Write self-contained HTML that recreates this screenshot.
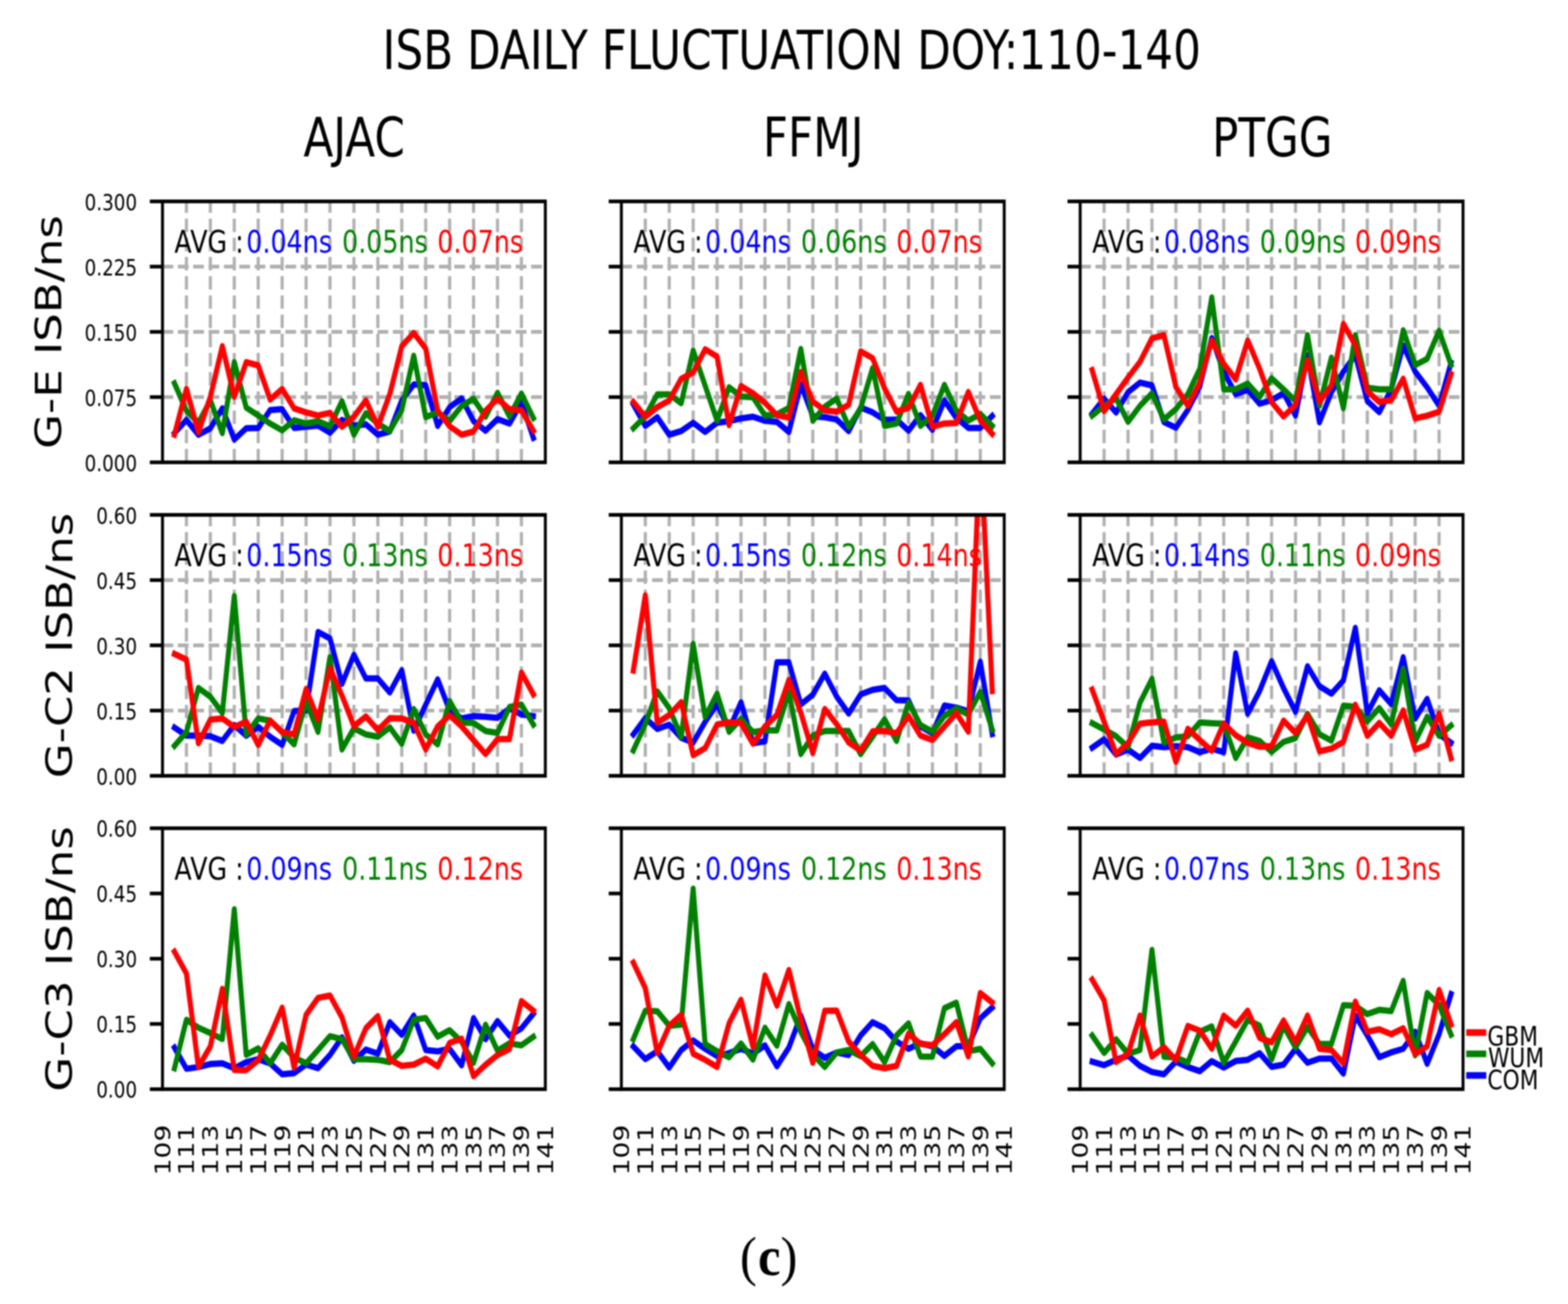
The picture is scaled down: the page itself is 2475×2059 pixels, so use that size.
<!DOCTYPE html>
<html><head><meta charset="utf-8"><style>
html,body{margin:0;padding:0;background:#fff;width:2475px;height:2059px;overflow:hidden;}
svg{display:block;filter:blur(0.8px);}
text{font-family:'DejaVu Sans','Liberation Sans',sans-serif;}
.cap{font-family:'Liberation Serif',serif;}
</style></head><body>
<svg width="2475" height="2059" viewBox="0 0 2475 2059">
<rect width="2475" height="2059" fill="#fff"/>
<g transform="scale(0.8,1)">
<text x="754.80" y="109.20" font-size="86.2" fill="#000" >ISB DAILY FLUCTUATION DOY:110-140</text>
<text x="598.69" y="247.30" font-size="86" fill="#000" >AJAC</text>
<text x="1505.32" y="247.30" font-size="86" fill="#000" >FFMJ</text>
<text x="2391.45" y="247.30" font-size="86" fill="#000" >PTGG</text>
<clipPath id="c00"><rect x="320.62" y="318.00" width="755.37" height="412.00"/></clipPath>
<g>
<line x1="367.84" y1="730.00" x2="367.84" y2="318.00" stroke="#b0b0b0" stroke-width="6.2" stroke-dasharray="21.2 9.1"/>
<line x1="415.05" y1="730.00" x2="415.05" y2="318.00" stroke="#b0b0b0" stroke-width="6.2" stroke-dasharray="21.2 9.1"/>
<line x1="462.26" y1="730.00" x2="462.26" y2="318.00" stroke="#b0b0b0" stroke-width="6.2" stroke-dasharray="21.2 9.1"/>
<line x1="509.47" y1="730.00" x2="509.47" y2="318.00" stroke="#b0b0b0" stroke-width="6.2" stroke-dasharray="21.2 9.1"/>
<line x1="556.68" y1="730.00" x2="556.68" y2="318.00" stroke="#b0b0b0" stroke-width="6.2" stroke-dasharray="21.2 9.1"/>
<line x1="603.89" y1="730.00" x2="603.89" y2="318.00" stroke="#b0b0b0" stroke-width="6.2" stroke-dasharray="21.2 9.1"/>
<line x1="651.10" y1="730.00" x2="651.10" y2="318.00" stroke="#b0b0b0" stroke-width="6.2" stroke-dasharray="21.2 9.1"/>
<line x1="698.31" y1="730.00" x2="698.31" y2="318.00" stroke="#b0b0b0" stroke-width="6.2" stroke-dasharray="21.2 9.1"/>
<line x1="745.52" y1="730.00" x2="745.52" y2="318.00" stroke="#b0b0b0" stroke-width="6.2" stroke-dasharray="21.2 9.1"/>
<line x1="792.73" y1="730.00" x2="792.73" y2="318.00" stroke="#b0b0b0" stroke-width="6.2" stroke-dasharray="21.2 9.1"/>
<line x1="839.95" y1="730.00" x2="839.95" y2="318.00" stroke="#b0b0b0" stroke-width="6.2" stroke-dasharray="21.2 9.1"/>
<line x1="887.16" y1="730.00" x2="887.16" y2="318.00" stroke="#b0b0b0" stroke-width="6.2" stroke-dasharray="21.2 9.1"/>
<line x1="934.37" y1="730.00" x2="934.37" y2="318.00" stroke="#b0b0b0" stroke-width="6.2" stroke-dasharray="21.2 9.1"/>
<line x1="981.58" y1="730.00" x2="981.58" y2="318.00" stroke="#b0b0b0" stroke-width="6.2" stroke-dasharray="21.2 9.1"/>
<line x1="1028.79" y1="730.00" x2="1028.79" y2="318.00" stroke="#b0b0b0" stroke-width="6.2" stroke-dasharray="21.2 9.1"/>
<line x1="320.62" y1="627.00" x2="1076.00" y2="627.00" stroke="#b0b0b0" stroke-width="6.2" stroke-dasharray="21.2 9.1"/>
<line x1="320.62" y1="524.00" x2="1076.00" y2="524.00" stroke="#b0b0b0" stroke-width="6.2" stroke-dasharray="21.2 9.1"/>
<line x1="320.62" y1="421.00" x2="1076.00" y2="421.00" stroke="#b0b0b0" stroke-width="6.2" stroke-dasharray="21.2 9.1"/>
<text x="344.22" y="399.30" font-size="50.0">AVG :</text>
<text x="485.95" y="399.30" font-size="50.0" fill="#0000ff">0.04ns</text>
<text x="674.95" y="399.30" font-size="50.0" fill="#008000">0.05ns</text>
<text x="862.95" y="399.30" font-size="50.0" fill="#ff0000">0.07ns</text>
<g clip-path="url(#c00)">
<polyline points="344.23,683.90 367.84,663.10 391.44,686.40 415.05,676.30 438.65,644.80 462.26,694.00 485.86,676.30 509.47,675.70 533.07,647.40 556.68,646.10 580.29,675.70 603.89,673.80 627.50,671.90 651.10,683.30 674.71,663.10 698.31,672.00 721.92,670.00 745.52,686.40 769.13,681.40 792.73,632.20 816.34,607.10 839.95,608.30 863.55,672.50 887.16,643.00 910.76,629.10 934.37,665.00 957.97,680.10 981.58,661.80 1005.18,668.80 1028.79,636.00 1052.39,691.40" fill="none" stroke="#0000ff" stroke-width="10" stroke-linejoin="round" stroke-linecap="square"/>
<polyline points="344.23,605.20 367.84,648.60 391.44,667.50 415.05,632.20 438.65,683.90 462.26,571.80 485.86,643.60 509.47,656.00 533.07,668.80 556.68,679.50 580.29,663.70 603.89,668.80 627.50,665.00 651.10,673.20 674.71,633.50 698.31,686.40 721.92,652.40 745.52,668.80 769.13,680.70 792.73,647.40 816.34,561.70 839.95,658.70 863.55,651.10 887.16,665.00 910.76,641.10 934.37,629.70 957.97,658.10 981.58,620.30 1005.18,657.40 1028.79,621.50 1052.39,660.00" fill="none" stroke="#008000" stroke-width="10" stroke-linejoin="round" stroke-linecap="square"/>
<polyline points="344.23,686.40 367.84,614.00 391.44,682.60 415.05,626.60 438.65,546.60 462.26,626.60 485.86,571.80 509.47,577.00 533.07,631.00 556.68,614.00 580.29,644.80 603.89,651.10 627.50,656.20 651.10,651.80 674.71,673.80 698.31,658.00 721.92,632.20 745.52,673.80 769.13,622.20 792.73,546.60 816.34,525.80 839.95,550.40 863.55,648.60 887.16,673.00 910.76,686.40 934.37,681.40 957.97,648.60 981.58,629.70 1005.18,646.10 1028.79,648.00 1052.39,680.10" fill="none" stroke="#ff0000" stroke-width="10" stroke-linejoin="round" stroke-linecap="square"/>
</g>
<line x1="295.62" y1="730.00" x2="320.62" y2="730.00" stroke="#000" stroke-width="5.8"/>
<line x1="295.62" y1="627.00" x2="320.62" y2="627.00" stroke="#000" stroke-width="5.8"/>
<line x1="295.62" y1="524.00" x2="320.62" y2="524.00" stroke="#000" stroke-width="5.8"/>
<line x1="295.62" y1="421.00" x2="320.62" y2="421.00" stroke="#000" stroke-width="5.8"/>
<line x1="295.62" y1="318.00" x2="320.62" y2="318.00" stroke="#000" stroke-width="5.8"/>
<rect x="320.62" y="318.00" width="755.37" height="412.00" fill="none" stroke="#000" stroke-width="5.8"/>
</g>
<text x="270.51" y="743.68" font-size="36.2" text-anchor="end">0.000</text>
<text x="270.51" y="640.68" font-size="36.2" text-anchor="end">0.075</text>
<text x="270.51" y="537.68" font-size="36.2" text-anchor="end">0.150</text>
<text x="270.51" y="434.68" font-size="36.2" text-anchor="end">0.225</text>
<text x="270.51" y="331.68" font-size="36.2" text-anchor="end">0.300</text>
<clipPath id="c01"><rect x="1226.00" y="318.00" width="755.37" height="412.00"/></clipPath>
<g>
<line x1="1273.21" y1="730.00" x2="1273.21" y2="318.00" stroke="#b0b0b0" stroke-width="6.2" stroke-dasharray="21.2 9.1"/>
<line x1="1320.42" y1="730.00" x2="1320.42" y2="318.00" stroke="#b0b0b0" stroke-width="6.2" stroke-dasharray="21.2 9.1"/>
<line x1="1367.63" y1="730.00" x2="1367.63" y2="318.00" stroke="#b0b0b0" stroke-width="6.2" stroke-dasharray="21.2 9.1"/>
<line x1="1414.84" y1="730.00" x2="1414.84" y2="318.00" stroke="#b0b0b0" stroke-width="6.2" stroke-dasharray="21.2 9.1"/>
<line x1="1462.05" y1="730.00" x2="1462.05" y2="318.00" stroke="#b0b0b0" stroke-width="6.2" stroke-dasharray="21.2 9.1"/>
<line x1="1509.27" y1="730.00" x2="1509.27" y2="318.00" stroke="#b0b0b0" stroke-width="6.2" stroke-dasharray="21.2 9.1"/>
<line x1="1556.48" y1="730.00" x2="1556.48" y2="318.00" stroke="#b0b0b0" stroke-width="6.2" stroke-dasharray="21.2 9.1"/>
<line x1="1603.69" y1="730.00" x2="1603.69" y2="318.00" stroke="#b0b0b0" stroke-width="6.2" stroke-dasharray="21.2 9.1"/>
<line x1="1650.90" y1="730.00" x2="1650.90" y2="318.00" stroke="#b0b0b0" stroke-width="6.2" stroke-dasharray="21.2 9.1"/>
<line x1="1698.11" y1="730.00" x2="1698.11" y2="318.00" stroke="#b0b0b0" stroke-width="6.2" stroke-dasharray="21.2 9.1"/>
<line x1="1745.32" y1="730.00" x2="1745.32" y2="318.00" stroke="#b0b0b0" stroke-width="6.2" stroke-dasharray="21.2 9.1"/>
<line x1="1792.53" y1="730.00" x2="1792.53" y2="318.00" stroke="#b0b0b0" stroke-width="6.2" stroke-dasharray="21.2 9.1"/>
<line x1="1839.74" y1="730.00" x2="1839.74" y2="318.00" stroke="#b0b0b0" stroke-width="6.2" stroke-dasharray="21.2 9.1"/>
<line x1="1886.95" y1="730.00" x2="1886.95" y2="318.00" stroke="#b0b0b0" stroke-width="6.2" stroke-dasharray="21.2 9.1"/>
<line x1="1934.16" y1="730.00" x2="1934.16" y2="318.00" stroke="#b0b0b0" stroke-width="6.2" stroke-dasharray="21.2 9.1"/>
<line x1="1226.00" y1="627.00" x2="1981.37" y2="627.00" stroke="#b0b0b0" stroke-width="6.2" stroke-dasharray="21.2 9.1"/>
<line x1="1226.00" y1="524.00" x2="1981.37" y2="524.00" stroke="#b0b0b0" stroke-width="6.2" stroke-dasharray="21.2 9.1"/>
<line x1="1226.00" y1="421.00" x2="1981.37" y2="421.00" stroke="#b0b0b0" stroke-width="6.2" stroke-dasharray="21.2 9.1"/>
<text x="1249.60" y="399.30" font-size="50.0">AVG :</text>
<text x="1391.33" y="399.30" font-size="50.0" fill="#0000ff">0.04ns</text>
<text x="1580.33" y="399.30" font-size="50.0" fill="#008000">0.06ns</text>
<text x="1768.32" y="399.30" font-size="50.0" fill="#ff0000">0.07ns</text>
<g clip-path="url(#c01)">
<polyline points="1249.61,638.50 1273.21,672.50 1296.82,658.70 1320.42,686.40 1344.03,680.70 1367.63,667.50 1391.24,682.00 1414.84,667.50 1438.45,665.00 1462.05,660.60 1485.66,658.00 1509.27,664.30 1532.87,666.20 1556.48,682.00 1580.08,607.00 1603.69,657.40 1627.29,658.70 1650.90,662.40 1674.50,680.70 1698.11,643.60 1721.71,651.10 1745.32,663.10 1768.93,662.40 1792.53,680.00 1816.14,655.50 1839.74,678.80 1863.35,632.20 1886.95,659.90 1910.56,675.70 1934.16,675.70 1957.77,656.80" fill="none" stroke="#0000ff" stroke-width="10" stroke-linejoin="round" stroke-linecap="square"/>
<polyline points="1249.61,676.30 1273.21,657.40 1296.82,622.80 1320.42,622.80 1344.03,636.60 1367.63,553.50 1391.24,608.90 1414.84,664.30 1438.45,611.40 1462.05,625.90 1485.66,627.20 1509.27,656.20 1532.87,654.30 1556.48,644.20 1580.08,551.00 1603.69,664.30 1627.29,642.30 1650.90,629.10 1674.50,673.80 1698.11,644.80 1721.71,581.20 1745.32,672.50 1768.93,668.80 1792.53,622.00 1816.14,672.50 1839.74,656.20 1863.35,607.70 1886.95,648.60 1910.56,664.30 1934.16,653.60 1957.77,672.50" fill="none" stroke="#008000" stroke-width="10" stroke-linejoin="round" stroke-linecap="square"/>
<polyline points="1249.61,634.70 1273.21,658.00 1296.82,642.90 1320.42,632.20 1344.03,598.20 1367.63,588.20 1391.24,551.60 1414.84,563.00 1438.45,671.30 1462.05,609.60 1485.66,620.90 1509.27,636.00 1532.87,655.50 1556.48,659.30 1580.08,587.50 1603.69,634.00 1627.29,648.00 1650.90,649.90 1674.50,639.20 1698.11,554.80 1721.71,565.50 1745.32,613.30 1768.93,649.90 1792.53,644.00 1816.14,607.70 1839.74,673.80 1863.35,668.70 1886.95,668.10 1910.56,619.00 1934.16,663.70 1957.77,685.10" fill="none" stroke="#ff0000" stroke-width="10" stroke-linejoin="round" stroke-linecap="square"/>
</g>
<line x1="1201.00" y1="730.00" x2="1226.00" y2="730.00" stroke="#000" stroke-width="5.8"/>
<line x1="1201.00" y1="627.00" x2="1226.00" y2="627.00" stroke="#000" stroke-width="5.8"/>
<line x1="1201.00" y1="524.00" x2="1226.00" y2="524.00" stroke="#000" stroke-width="5.8"/>
<line x1="1201.00" y1="421.00" x2="1226.00" y2="421.00" stroke="#000" stroke-width="5.8"/>
<line x1="1201.00" y1="318.00" x2="1226.00" y2="318.00" stroke="#000" stroke-width="5.8"/>
<rect x="1226.00" y="318.00" width="755.37" height="412.00" fill="none" stroke="#000" stroke-width="5.8"/>
</g>
<clipPath id="c02"><rect x="2131.25" y="318.00" width="755.37" height="412.00"/></clipPath>
<g>
<line x1="2178.46" y1="730.00" x2="2178.46" y2="318.00" stroke="#b0b0b0" stroke-width="6.2" stroke-dasharray="21.2 9.1"/>
<line x1="2225.67" y1="730.00" x2="2225.67" y2="318.00" stroke="#b0b0b0" stroke-width="6.2" stroke-dasharray="21.2 9.1"/>
<line x1="2272.88" y1="730.00" x2="2272.88" y2="318.00" stroke="#b0b0b0" stroke-width="6.2" stroke-dasharray="21.2 9.1"/>
<line x1="2320.09" y1="730.00" x2="2320.09" y2="318.00" stroke="#b0b0b0" stroke-width="6.2" stroke-dasharray="21.2 9.1"/>
<line x1="2367.30" y1="730.00" x2="2367.30" y2="318.00" stroke="#b0b0b0" stroke-width="6.2" stroke-dasharray="21.2 9.1"/>
<line x1="2414.52" y1="730.00" x2="2414.52" y2="318.00" stroke="#b0b0b0" stroke-width="6.2" stroke-dasharray="21.2 9.1"/>
<line x1="2461.73" y1="730.00" x2="2461.73" y2="318.00" stroke="#b0b0b0" stroke-width="6.2" stroke-dasharray="21.2 9.1"/>
<line x1="2508.94" y1="730.00" x2="2508.94" y2="318.00" stroke="#b0b0b0" stroke-width="6.2" stroke-dasharray="21.2 9.1"/>
<line x1="2556.15" y1="730.00" x2="2556.15" y2="318.00" stroke="#b0b0b0" stroke-width="6.2" stroke-dasharray="21.2 9.1"/>
<line x1="2603.36" y1="730.00" x2="2603.36" y2="318.00" stroke="#b0b0b0" stroke-width="6.2" stroke-dasharray="21.2 9.1"/>
<line x1="2650.57" y1="730.00" x2="2650.57" y2="318.00" stroke="#b0b0b0" stroke-width="6.2" stroke-dasharray="21.2 9.1"/>
<line x1="2697.78" y1="730.00" x2="2697.78" y2="318.00" stroke="#b0b0b0" stroke-width="6.2" stroke-dasharray="21.2 9.1"/>
<line x1="2744.99" y1="730.00" x2="2744.99" y2="318.00" stroke="#b0b0b0" stroke-width="6.2" stroke-dasharray="21.2 9.1"/>
<line x1="2792.20" y1="730.00" x2="2792.20" y2="318.00" stroke="#b0b0b0" stroke-width="6.2" stroke-dasharray="21.2 9.1"/>
<line x1="2839.41" y1="730.00" x2="2839.41" y2="318.00" stroke="#b0b0b0" stroke-width="6.2" stroke-dasharray="21.2 9.1"/>
<line x1="2131.25" y1="627.00" x2="2886.62" y2="627.00" stroke="#b0b0b0" stroke-width="6.2" stroke-dasharray="21.2 9.1"/>
<line x1="2131.25" y1="524.00" x2="2886.62" y2="524.00" stroke="#b0b0b0" stroke-width="6.2" stroke-dasharray="21.2 9.1"/>
<line x1="2131.25" y1="421.00" x2="2886.62" y2="421.00" stroke="#b0b0b0" stroke-width="6.2" stroke-dasharray="21.2 9.1"/>
<text x="2154.85" y="399.30" font-size="50.0">AVG :</text>
<text x="2296.57" y="399.30" font-size="50.0" fill="#0000ff">0.08ns</text>
<text x="2485.57" y="399.30" font-size="50.0" fill="#008000">0.09ns</text>
<text x="2673.57" y="399.30" font-size="50.0" fill="#ff0000">0.09ns</text>
<g clip-path="url(#c02)">
<polyline points="2154.86,653.30 2178.46,629.60 2202.07,651.40 2225.67,619.30 2249.28,604.10 2272.88,608.50 2296.49,666.40 2320.09,675.40 2343.70,647.10 2367.30,610.00 2390.91,533.80 2414.52,586.80 2438.12,622.40 2461.73,615.40 2485.33,637.50 2508.94,632.00 2532.54,620.80 2556.15,656.10 2579.75,560.90 2603.36,666.90 2626.96,619.30 2650.57,586.80 2674.18,560.60 2697.78,633.20 2721.39,650.70 2744.99,614.70 2768.60,545.40 2792.20,586.80 2815.81,611.60 2839.41,640.60 2863.02,572.90" fill="none" stroke="#0000ff" stroke-width="10" stroke-linejoin="round" stroke-linecap="square"/>
<polyline points="2154.86,656.40 2178.46,640.90 2202.07,628.90 2225.67,666.10 2249.28,640.90 2272.88,621.10 2296.49,662.30 2320.09,646.00 2343.70,622.40 2367.30,582.20 2390.91,469.70 2414.52,614.70 2438.12,614.70 2461.73,605.70 2485.33,626.70 2508.94,597.20 2532.54,614.70 2556.15,633.20 2579.75,529.20 2603.36,640.60 2626.96,564.70 2650.57,644.50 2674.18,529.20 2697.78,612.30 2721.39,614.70 2744.99,614.70 2768.60,521.50 2792.20,576.50 2815.81,566.70 2839.41,522.20 2863.02,576.00" fill="none" stroke="#008000" stroke-width="10" stroke-linejoin="round" stroke-linecap="square"/>
<polyline points="2154.86,584.50 2178.46,649.10 2202.07,622.40 2225.67,596.10 2249.28,571.40 2272.88,534.30 2296.49,529.20 2320.09,611.00 2343.70,640.60 2367.30,603.80 2390.91,537.70 2414.52,574.50 2438.12,598.90 2461.73,537.70 2485.33,582.20 2508.94,635.00 2532.54,657.60 2556.15,639.40 2579.75,568.60 2603.36,634.40 2626.96,608.50 2650.57,511.40 2674.18,545.10 2697.78,617.70 2721.39,634.70 2744.99,631.70 2768.60,598.00 2792.20,660.70 2815.81,656.40 2839.41,650.20 2863.02,590.70" fill="none" stroke="#ff0000" stroke-width="10" stroke-linejoin="round" stroke-linecap="square"/>
</g>
<line x1="2106.25" y1="730.00" x2="2131.25" y2="730.00" stroke="#000" stroke-width="5.8"/>
<line x1="2106.25" y1="627.00" x2="2131.25" y2="627.00" stroke="#000" stroke-width="5.8"/>
<line x1="2106.25" y1="524.00" x2="2131.25" y2="524.00" stroke="#000" stroke-width="5.8"/>
<line x1="2106.25" y1="421.00" x2="2131.25" y2="421.00" stroke="#000" stroke-width="5.8"/>
<line x1="2106.25" y1="318.00" x2="2131.25" y2="318.00" stroke="#000" stroke-width="5.8"/>
<rect x="2131.25" y="318.00" width="755.37" height="412.00" fill="none" stroke="#000" stroke-width="5.8"/>
</g>
<clipPath id="c10"><rect x="320.62" y="813.00" width="755.37" height="412.00"/></clipPath>
<g>
<line x1="367.84" y1="1225.00" x2="367.84" y2="813.00" stroke="#b0b0b0" stroke-width="6.2" stroke-dasharray="21.2 9.1"/>
<line x1="415.05" y1="1225.00" x2="415.05" y2="813.00" stroke="#b0b0b0" stroke-width="6.2" stroke-dasharray="21.2 9.1"/>
<line x1="462.26" y1="1225.00" x2="462.26" y2="813.00" stroke="#b0b0b0" stroke-width="6.2" stroke-dasharray="21.2 9.1"/>
<line x1="509.47" y1="1225.00" x2="509.47" y2="813.00" stroke="#b0b0b0" stroke-width="6.2" stroke-dasharray="21.2 9.1"/>
<line x1="556.68" y1="1225.00" x2="556.68" y2="813.00" stroke="#b0b0b0" stroke-width="6.2" stroke-dasharray="21.2 9.1"/>
<line x1="603.89" y1="1225.00" x2="603.89" y2="813.00" stroke="#b0b0b0" stroke-width="6.2" stroke-dasharray="21.2 9.1"/>
<line x1="651.10" y1="1225.00" x2="651.10" y2="813.00" stroke="#b0b0b0" stroke-width="6.2" stroke-dasharray="21.2 9.1"/>
<line x1="698.31" y1="1225.00" x2="698.31" y2="813.00" stroke="#b0b0b0" stroke-width="6.2" stroke-dasharray="21.2 9.1"/>
<line x1="745.52" y1="1225.00" x2="745.52" y2="813.00" stroke="#b0b0b0" stroke-width="6.2" stroke-dasharray="21.2 9.1"/>
<line x1="792.73" y1="1225.00" x2="792.73" y2="813.00" stroke="#b0b0b0" stroke-width="6.2" stroke-dasharray="21.2 9.1"/>
<line x1="839.95" y1="1225.00" x2="839.95" y2="813.00" stroke="#b0b0b0" stroke-width="6.2" stroke-dasharray="21.2 9.1"/>
<line x1="887.16" y1="1225.00" x2="887.16" y2="813.00" stroke="#b0b0b0" stroke-width="6.2" stroke-dasharray="21.2 9.1"/>
<line x1="934.37" y1="1225.00" x2="934.37" y2="813.00" stroke="#b0b0b0" stroke-width="6.2" stroke-dasharray="21.2 9.1"/>
<line x1="981.58" y1="1225.00" x2="981.58" y2="813.00" stroke="#b0b0b0" stroke-width="6.2" stroke-dasharray="21.2 9.1"/>
<line x1="1028.79" y1="1225.00" x2="1028.79" y2="813.00" stroke="#b0b0b0" stroke-width="6.2" stroke-dasharray="21.2 9.1"/>
<line x1="320.62" y1="1122.00" x2="1076.00" y2="1122.00" stroke="#b0b0b0" stroke-width="6.2" stroke-dasharray="21.2 9.1"/>
<line x1="320.62" y1="1019.00" x2="1076.00" y2="1019.00" stroke="#b0b0b0" stroke-width="6.2" stroke-dasharray="21.2 9.1"/>
<line x1="320.62" y1="916.00" x2="1076.00" y2="916.00" stroke="#b0b0b0" stroke-width="6.2" stroke-dasharray="21.2 9.1"/>
<text x="344.22" y="894.30" font-size="50.0">AVG :</text>
<text x="485.95" y="894.30" font-size="50.0" fill="#0000ff">0.15ns</text>
<text x="674.95" y="894.30" font-size="50.0" fill="#008000">0.13ns</text>
<text x="862.95" y="894.30" font-size="50.0" fill="#ff0000">0.13ns</text>
<g clip-path="url(#c10)">
<polyline points="344.23,1148.80 367.84,1161.50 391.44,1161.50 415.05,1162.40 438.65,1169.90 462.26,1144.90 485.86,1161.80 509.47,1147.60 533.07,1163.30 556.68,1176.20 580.29,1122.70 603.89,1121.80 627.50,997.90 651.10,1008.20 674.71,1079.80 698.31,1034.00 721.92,1071.30 745.52,1071.30 769.13,1093.30 792.73,1058.30 816.34,1153.70 839.95,1112.80 863.55,1072.70 887.16,1121.80 910.76,1134.40 934.37,1130.80 957.97,1131.70 981.58,1133.50 1005.18,1118.70 1028.79,1128.10 1052.39,1130.80" fill="none" stroke="#0000ff" stroke-width="10" stroke-linejoin="round" stroke-linecap="square"/>
<polyline points="344.23,1177.70 367.84,1156.00 391.44,1086.30 415.05,1100.10 438.65,1125.70 462.26,941.10 485.86,1160.00 509.47,1134.40 533.07,1138.00 556.68,1156.00 580.29,1175.30 603.89,1107.00 627.50,1155.50 651.10,1037.60 674.71,1183.40 698.31,1150.00 721.92,1159.60 745.52,1163.30 769.13,1148.50 792.73,1174.40 816.34,1119.60 839.95,1159.60 863.55,1175.30 887.16,1107.00 910.76,1140.70 934.37,1141.60 957.97,1154.20 981.58,1157.30 1005.18,1116.40 1028.79,1112.40 1052.39,1144.30" fill="none" stroke="#008000" stroke-width="10" stroke-linejoin="round" stroke-linecap="square"/>
<polyline points="344.23,1032.50 367.84,1041.50 391.44,1173.50 415.05,1136.20 438.65,1134.40 462.26,1147.90 485.86,1139.50 509.47,1176.20 533.07,1137.60 556.68,1156.00 580.29,1159.60 603.89,1088.10 627.50,1135.70 651.10,1054.70 674.71,1098.30 698.31,1146.50 721.92,1131.30 745.52,1152.80 769.13,1134.00 792.73,1134.40 816.34,1141.60 839.95,1183.40 863.55,1147.00 887.16,1129.50 910.76,1147.00 934.37,1168.70 957.97,1190.70 981.58,1166.90 1005.18,1166.90 1028.79,1061.90 1052.39,1096.50" fill="none" stroke="#ff0000" stroke-width="10" stroke-linejoin="round" stroke-linecap="square"/>
</g>
<line x1="295.62" y1="1225.00" x2="320.62" y2="1225.00" stroke="#000" stroke-width="5.8"/>
<line x1="295.62" y1="1122.00" x2="320.62" y2="1122.00" stroke="#000" stroke-width="5.8"/>
<line x1="295.62" y1="1019.00" x2="320.62" y2="1019.00" stroke="#000" stroke-width="5.8"/>
<line x1="295.62" y1="916.00" x2="320.62" y2="916.00" stroke="#000" stroke-width="5.8"/>
<line x1="295.62" y1="813.00" x2="320.62" y2="813.00" stroke="#000" stroke-width="5.8"/>
<rect x="320.62" y="813.00" width="755.37" height="412.00" fill="none" stroke="#000" stroke-width="5.8"/>
</g>
<text x="270.51" y="1238.68" font-size="36.2" text-anchor="end">0.00</text>
<text x="270.51" y="1135.68" font-size="36.2" text-anchor="end">0.15</text>
<text x="270.51" y="1032.68" font-size="36.2" text-anchor="end">0.30</text>
<text x="270.51" y="929.68" font-size="36.2" text-anchor="end">0.45</text>
<text x="270.51" y="826.68" font-size="36.2" text-anchor="end">0.60</text>
<clipPath id="c11"><rect x="1226.00" y="813.00" width="755.37" height="412.00"/></clipPath>
<g>
<line x1="1273.21" y1="1225.00" x2="1273.21" y2="813.00" stroke="#b0b0b0" stroke-width="6.2" stroke-dasharray="21.2 9.1"/>
<line x1="1320.42" y1="1225.00" x2="1320.42" y2="813.00" stroke="#b0b0b0" stroke-width="6.2" stroke-dasharray="21.2 9.1"/>
<line x1="1367.63" y1="1225.00" x2="1367.63" y2="813.00" stroke="#b0b0b0" stroke-width="6.2" stroke-dasharray="21.2 9.1"/>
<line x1="1414.84" y1="1225.00" x2="1414.84" y2="813.00" stroke="#b0b0b0" stroke-width="6.2" stroke-dasharray="21.2 9.1"/>
<line x1="1462.05" y1="1225.00" x2="1462.05" y2="813.00" stroke="#b0b0b0" stroke-width="6.2" stroke-dasharray="21.2 9.1"/>
<line x1="1509.27" y1="1225.00" x2="1509.27" y2="813.00" stroke="#b0b0b0" stroke-width="6.2" stroke-dasharray="21.2 9.1"/>
<line x1="1556.48" y1="1225.00" x2="1556.48" y2="813.00" stroke="#b0b0b0" stroke-width="6.2" stroke-dasharray="21.2 9.1"/>
<line x1="1603.69" y1="1225.00" x2="1603.69" y2="813.00" stroke="#b0b0b0" stroke-width="6.2" stroke-dasharray="21.2 9.1"/>
<line x1="1650.90" y1="1225.00" x2="1650.90" y2="813.00" stroke="#b0b0b0" stroke-width="6.2" stroke-dasharray="21.2 9.1"/>
<line x1="1698.11" y1="1225.00" x2="1698.11" y2="813.00" stroke="#b0b0b0" stroke-width="6.2" stroke-dasharray="21.2 9.1"/>
<line x1="1745.32" y1="1225.00" x2="1745.32" y2="813.00" stroke="#b0b0b0" stroke-width="6.2" stroke-dasharray="21.2 9.1"/>
<line x1="1792.53" y1="1225.00" x2="1792.53" y2="813.00" stroke="#b0b0b0" stroke-width="6.2" stroke-dasharray="21.2 9.1"/>
<line x1="1839.74" y1="1225.00" x2="1839.74" y2="813.00" stroke="#b0b0b0" stroke-width="6.2" stroke-dasharray="21.2 9.1"/>
<line x1="1886.95" y1="1225.00" x2="1886.95" y2="813.00" stroke="#b0b0b0" stroke-width="6.2" stroke-dasharray="21.2 9.1"/>
<line x1="1934.16" y1="1225.00" x2="1934.16" y2="813.00" stroke="#b0b0b0" stroke-width="6.2" stroke-dasharray="21.2 9.1"/>
<line x1="1226.00" y1="1122.00" x2="1981.37" y2="1122.00" stroke="#b0b0b0" stroke-width="6.2" stroke-dasharray="21.2 9.1"/>
<line x1="1226.00" y1="1019.00" x2="1981.37" y2="1019.00" stroke="#b0b0b0" stroke-width="6.2" stroke-dasharray="21.2 9.1"/>
<line x1="1226.00" y1="916.00" x2="1981.37" y2="916.00" stroke="#b0b0b0" stroke-width="6.2" stroke-dasharray="21.2 9.1"/>
<text x="1249.60" y="894.30" font-size="50.0">AVG :</text>
<text x="1391.33" y="894.30" font-size="50.0" fill="#0000ff">0.15ns</text>
<text x="1580.33" y="894.30" font-size="50.0" fill="#008000">0.12ns</text>
<text x="1768.32" y="894.30" font-size="50.0" fill="#ff0000">0.14ns</text>
<g clip-path="url(#c11)">
<polyline points="1249.61,1159.60 1273.21,1134.00 1296.82,1151.00 1320.42,1144.30 1344.03,1165.00 1367.63,1172.60 1391.24,1139.80 1414.84,1112.00 1438.45,1151.90 1462.05,1108.80 1485.66,1173.50 1509.27,1170.50 1532.87,1045.70 1556.48,1045.70 1580.08,1112.20 1603.69,1097.00 1627.29,1063.70 1650.90,1100.10 1674.50,1126.70 1698.11,1096.50 1721.71,1089.30 1745.32,1086.30 1768.93,1105.60 1792.53,1106.00 1816.14,1147.20 1839.74,1157.70 1863.35,1114.00 1886.95,1117.40 1910.56,1123.30 1934.16,1044.80 1957.77,1159.10" fill="none" stroke="#0000ff" stroke-width="10" stroke-linejoin="round" stroke-linecap="square"/>
<polyline points="1249.61,1184.90 1273.21,1143.40 1296.82,1091.70 1320.42,1118.20 1344.03,1163.60 1367.63,1016.80 1391.24,1132.10 1414.84,1095.30 1438.45,1155.50 1462.05,1134.90 1485.66,1156.00 1509.27,1153.30 1532.87,1153.30 1556.48,1092.60 1580.08,1190.70 1603.69,1161.50 1627.29,1154.20 1650.90,1154.20 1674.50,1154.20 1698.11,1190.70 1721.71,1163.30 1745.32,1135.80 1768.93,1169.90 1792.53,1109.30 1816.14,1144.80 1839.74,1155.30 1863.35,1130.50 1886.95,1118.60 1910.56,1128.10 1934.16,1092.50 1957.77,1152.00" fill="none" stroke="#008000" stroke-width="10" stroke-linejoin="round" stroke-linecap="square"/>
<polyline points="1249.61,1058.70 1273.21,940.20 1296.82,1141.10 1320.42,1129.00 1344.03,1108.80 1367.63,1192.50 1391.24,1181.30 1414.84,1144.00 1438.45,1140.70 1462.05,1141.60 1485.66,1174.40 1509.27,1147.00 1532.87,1129.00 1556.48,1073.60 1580.08,1125.40 1603.69,1188.90 1627.29,1119.60 1650.90,1143.40 1674.50,1172.30 1698.11,1185.20 1721.71,1154.80 1745.32,1154.20 1768.93,1157.80 1792.53,1130.70 1816.14,1161.50 1839.74,1168.50 1863.35,1147.20 1886.95,1126.00 1910.56,1155.30 1934.16,695.00 1957.77,1091.10" fill="none" stroke="#ff0000" stroke-width="10" stroke-linejoin="round" stroke-linecap="square"/>
</g>
<line x1="1201.00" y1="1225.00" x2="1226.00" y2="1225.00" stroke="#000" stroke-width="5.8"/>
<line x1="1201.00" y1="1122.00" x2="1226.00" y2="1122.00" stroke="#000" stroke-width="5.8"/>
<line x1="1201.00" y1="1019.00" x2="1226.00" y2="1019.00" stroke="#000" stroke-width="5.8"/>
<line x1="1201.00" y1="916.00" x2="1226.00" y2="916.00" stroke="#000" stroke-width="5.8"/>
<line x1="1201.00" y1="813.00" x2="1226.00" y2="813.00" stroke="#000" stroke-width="5.8"/>
<rect x="1226.00" y="813.00" width="755.37" height="412.00" fill="none" stroke="#000" stroke-width="5.8"/>
</g>
<clipPath id="c12"><rect x="2131.25" y="813.00" width="755.37" height="412.00"/></clipPath>
<g>
<line x1="2178.46" y1="1225.00" x2="2178.46" y2="813.00" stroke="#b0b0b0" stroke-width="6.2" stroke-dasharray="21.2 9.1"/>
<line x1="2225.67" y1="1225.00" x2="2225.67" y2="813.00" stroke="#b0b0b0" stroke-width="6.2" stroke-dasharray="21.2 9.1"/>
<line x1="2272.88" y1="1225.00" x2="2272.88" y2="813.00" stroke="#b0b0b0" stroke-width="6.2" stroke-dasharray="21.2 9.1"/>
<line x1="2320.09" y1="1225.00" x2="2320.09" y2="813.00" stroke="#b0b0b0" stroke-width="6.2" stroke-dasharray="21.2 9.1"/>
<line x1="2367.30" y1="1225.00" x2="2367.30" y2="813.00" stroke="#b0b0b0" stroke-width="6.2" stroke-dasharray="21.2 9.1"/>
<line x1="2414.52" y1="1225.00" x2="2414.52" y2="813.00" stroke="#b0b0b0" stroke-width="6.2" stroke-dasharray="21.2 9.1"/>
<line x1="2461.73" y1="1225.00" x2="2461.73" y2="813.00" stroke="#b0b0b0" stroke-width="6.2" stroke-dasharray="21.2 9.1"/>
<line x1="2508.94" y1="1225.00" x2="2508.94" y2="813.00" stroke="#b0b0b0" stroke-width="6.2" stroke-dasharray="21.2 9.1"/>
<line x1="2556.15" y1="1225.00" x2="2556.15" y2="813.00" stroke="#b0b0b0" stroke-width="6.2" stroke-dasharray="21.2 9.1"/>
<line x1="2603.36" y1="1225.00" x2="2603.36" y2="813.00" stroke="#b0b0b0" stroke-width="6.2" stroke-dasharray="21.2 9.1"/>
<line x1="2650.57" y1="1225.00" x2="2650.57" y2="813.00" stroke="#b0b0b0" stroke-width="6.2" stroke-dasharray="21.2 9.1"/>
<line x1="2697.78" y1="1225.00" x2="2697.78" y2="813.00" stroke="#b0b0b0" stroke-width="6.2" stroke-dasharray="21.2 9.1"/>
<line x1="2744.99" y1="1225.00" x2="2744.99" y2="813.00" stroke="#b0b0b0" stroke-width="6.2" stroke-dasharray="21.2 9.1"/>
<line x1="2792.20" y1="1225.00" x2="2792.20" y2="813.00" stroke="#b0b0b0" stroke-width="6.2" stroke-dasharray="21.2 9.1"/>
<line x1="2839.41" y1="1225.00" x2="2839.41" y2="813.00" stroke="#b0b0b0" stroke-width="6.2" stroke-dasharray="21.2 9.1"/>
<line x1="2131.25" y1="1122.00" x2="2886.62" y2="1122.00" stroke="#b0b0b0" stroke-width="6.2" stroke-dasharray="21.2 9.1"/>
<line x1="2131.25" y1="1019.00" x2="2886.62" y2="1019.00" stroke="#b0b0b0" stroke-width="6.2" stroke-dasharray="21.2 9.1"/>
<line x1="2131.25" y1="916.00" x2="2886.62" y2="916.00" stroke="#b0b0b0" stroke-width="6.2" stroke-dasharray="21.2 9.1"/>
<text x="2154.85" y="894.30" font-size="50.0">AVG :</text>
<text x="2296.57" y="894.30" font-size="50.0" fill="#0000ff">0.14ns</text>
<text x="2485.57" y="894.30" font-size="50.0" fill="#008000">0.11ns</text>
<text x="2673.57" y="894.30" font-size="50.0" fill="#ff0000">0.09ns</text>
<g clip-path="url(#c12)">
<polyline points="2154.86,1180.60 2178.46,1167.40 2202.07,1191.50 2225.67,1183.60 2249.28,1196.80 2272.88,1177.50 2296.49,1179.80 2320.09,1178.30 2343.70,1179.80 2367.30,1187.70 2390.91,1182.10 2414.52,1187.70 2438.12,1031.60 2461.73,1127.00 2485.33,1091.10 2508.94,1044.00 2532.54,1086.50 2556.15,1124.00 2579.75,1052.10 2603.36,1083.50 2626.96,1095.20 2650.57,1074.40 2674.18,991.40 2697.78,1126.20 2721.39,1090.00 2744.99,1111.80 2768.60,1037.70 2792.20,1134.60 2815.81,1103.60 2839.41,1159.30 2863.02,1172.90" fill="none" stroke="#0000ff" stroke-width="10" stroke-linejoin="round" stroke-linecap="square"/>
<polyline points="2154.86,1141.90 2178.46,1151.80 2202.07,1162.40 2225.67,1180.10 2249.28,1109.30 2272.88,1071.80 2296.49,1172.50 2320.09,1164.60 2343.70,1162.40 2367.30,1140.80 2390.91,1141.90 2414.52,1142.70 2438.12,1196.80 2461.73,1164.40 2485.33,1170.00 2508.94,1187.20 2532.54,1171.50 2556.15,1165.40 2579.75,1127.20 2603.36,1159.30 2626.96,1169.50 2650.57,1114.30 2674.18,1116.10 2697.78,1139.10 2721.39,1118.00 2744.99,1143.70 2768.60,1055.90 2792.20,1171.00 2815.81,1131.70 2839.41,1161.90 2863.02,1145.60" fill="none" stroke="#008000" stroke-width="10" stroke-linejoin="round" stroke-linecap="square"/>
<polyline points="2154.86,1088.80 2178.46,1139.60 2202.07,1190.70 2225.67,1173.00 2249.28,1142.70 2272.88,1140.40 2296.49,1139.60 2320.09,1202.90 2343.70,1150.70 2367.30,1168.40 2390.91,1185.40 2414.52,1142.40 2438.12,1160.90 2461.73,1173.00 2485.33,1179.10 2508.94,1178.00 2532.54,1137.80 2556.15,1157.40 2579.75,1129.50 2603.36,1186.20 2626.96,1182.10 2650.57,1171.50 2674.18,1112.80 2697.78,1161.90 2721.39,1141.50 2744.99,1161.90 2768.60,1121.80 2792.20,1183.80 2815.81,1176.00 2839.41,1126.40 2863.02,1197.20" fill="none" stroke="#ff0000" stroke-width="10" stroke-linejoin="round" stroke-linecap="square"/>
</g>
<line x1="2106.25" y1="1225.00" x2="2131.25" y2="1225.00" stroke="#000" stroke-width="5.8"/>
<line x1="2106.25" y1="1122.00" x2="2131.25" y2="1122.00" stroke="#000" stroke-width="5.8"/>
<line x1="2106.25" y1="1019.00" x2="2131.25" y2="1019.00" stroke="#000" stroke-width="5.8"/>
<line x1="2106.25" y1="916.00" x2="2131.25" y2="916.00" stroke="#000" stroke-width="5.8"/>
<line x1="2106.25" y1="813.00" x2="2131.25" y2="813.00" stroke="#000" stroke-width="5.8"/>
<rect x="2131.25" y="813.00" width="755.37" height="412.00" fill="none" stroke="#000" stroke-width="5.8"/>
</g>
<clipPath id="c20"><rect x="320.62" y="1307.80" width="755.37" height="412.00"/></clipPath>
<g>
<text x="344.22" y="1389.10" font-size="50.0">AVG :</text>
<text x="485.95" y="1389.10" font-size="50.0" fill="#0000ff">0.09ns</text>
<text x="674.95" y="1389.10" font-size="50.0" fill="#008000">0.11ns</text>
<text x="862.95" y="1389.10" font-size="50.0" fill="#ff0000">0.12ns</text>
<g clip-path="url(#c20)">
<polyline points="344.23,1654.20 367.84,1687.60 391.44,1684.90 415.05,1680.10 438.65,1679.10 462.26,1686.80 485.86,1677.20 509.47,1672.40 533.07,1679.10 556.68,1696.20 580.29,1694.50 603.89,1681.00 627.50,1686.60 651.10,1665.70 674.71,1638.10 698.31,1675.00 721.92,1657.30 745.52,1663.80 769.13,1614.10 792.73,1633.90 816.34,1603.60 839.95,1658.00 863.55,1660.00 887.16,1656.30 910.76,1682.00 934.37,1607.60 957.97,1640.80 981.58,1612.30 1005.18,1635.20 1028.79,1623.70 1052.39,1600.60" fill="none" stroke="#0000ff" stroke-width="10" stroke-linejoin="round" stroke-linecap="square"/>
<polyline points="344.23,1686.80 367.84,1610.30 391.44,1622.60 415.05,1631.20 438.65,1640.60 462.26,1435.80 485.86,1665.50 509.47,1655.40 533.07,1679.00 556.68,1649.60 580.29,1669.60 603.89,1679.00 627.50,1658.00 651.10,1636.20 674.71,1640.80 698.31,1672.50 721.92,1672.40 745.52,1673.40 769.13,1677.00 792.73,1658.00 816.34,1610.10 839.95,1607.40 863.55,1636.80 887.16,1626.70 910.76,1644.80 934.37,1678.10 957.97,1618.10 981.58,1659.00 1005.18,1647.60 1028.79,1650.50 1052.39,1637.10" fill="none" stroke="#008000" stroke-width="10" stroke-linejoin="round" stroke-linecap="square"/>
<polyline points="344.23,1502.70 367.84,1537.20 391.44,1684.70 415.05,1652.30 438.65,1561.40 462.26,1689.50 485.86,1689.70 509.47,1674.00 533.07,1635.00 556.68,1591.10 580.29,1685.70 603.89,1602.40 627.50,1575.60 651.10,1572.00 674.71,1606.30 698.31,1668.00 721.92,1623.50 745.52,1604.50 769.13,1673.40 792.73,1683.00 816.34,1681.00 839.95,1671.70 863.55,1683.70 887.16,1646.70 910.76,1640.20 934.37,1699.30 957.97,1681.20 981.58,1665.90 1005.18,1656.30 1028.79,1580.70 1052.39,1595.80" fill="none" stroke="#ff0000" stroke-width="10" stroke-linejoin="round" stroke-linecap="square"/>
</g>
<line x1="295.62" y1="1719.80" x2="320.62" y2="1719.80" stroke="#000" stroke-width="5.8"/>
<line x1="295.62" y1="1616.80" x2="320.62" y2="1616.80" stroke="#000" stroke-width="5.8"/>
<line x1="295.62" y1="1513.80" x2="320.62" y2="1513.80" stroke="#000" stroke-width="5.8"/>
<line x1="295.62" y1="1410.80" x2="320.62" y2="1410.80" stroke="#000" stroke-width="5.8"/>
<line x1="295.62" y1="1307.80" x2="320.62" y2="1307.80" stroke="#000" stroke-width="5.8"/>
<rect x="320.62" y="1307.80" width="755.37" height="412.00" fill="none" stroke="#000" stroke-width="5.8"/>
</g>
<text x="270.51" y="1733.48" font-size="36.2" text-anchor="end">0.00</text>
<text x="270.51" y="1630.48" font-size="36.2" text-anchor="end">0.15</text>
<text x="270.51" y="1527.48" font-size="36.2" text-anchor="end">0.30</text>
<text x="270.51" y="1424.48" font-size="36.2" text-anchor="end">0.45</text>
<text x="270.51" y="1321.48" font-size="36.2" text-anchor="end">0.60</text>
<clipPath id="c21"><rect x="1226.00" y="1307.80" width="755.37" height="412.00"/></clipPath>
<g>
<text x="1249.60" y="1389.10" font-size="50.0">AVG :</text>
<text x="1391.33" y="1389.10" font-size="50.0" fill="#0000ff">0.09ns</text>
<text x="1580.33" y="1389.10" font-size="50.0" fill="#008000">0.12ns</text>
<text x="1768.32" y="1389.10" font-size="50.0" fill="#ff0000">0.13ns</text>
<g clip-path="url(#c21)">
<polyline points="1249.61,1652.30 1273.21,1672.20 1296.82,1660.00 1320.42,1685.70 1344.03,1658.00 1367.63,1642.90 1391.24,1656.10 1414.84,1667.60 1438.45,1662.80 1462.05,1656.10 1485.66,1663.80 1509.27,1650.60 1532.87,1683.70 1556.48,1654.20 1580.08,1603.60 1603.69,1657.00 1627.29,1670.30 1650.90,1661.90 1674.50,1665.70 1698.11,1635.00 1721.71,1614.10 1745.32,1623.50 1768.93,1644.60 1792.53,1656.00 1816.14,1647.30 1839.74,1652.10 1863.35,1667.30 1886.95,1652.10 1910.56,1652.10 1934.16,1608.00 1957.77,1590.80" fill="none" stroke="#0000ff" stroke-width="10" stroke-linejoin="round" stroke-linecap="square"/>
<polyline points="1249.61,1640.80 1273.21,1595.90 1296.82,1596.70 1320.42,1619.70 1344.03,1617.80 1367.63,1403.20 1391.24,1648.50 1414.84,1660.00 1438.45,1669.40 1462.05,1647.70 1485.66,1673.20 1509.27,1622.80 1532.87,1651.10 1556.48,1585.40 1580.08,1629.30 1603.69,1665.00 1627.29,1684.70 1650.90,1661.90 1674.50,1658.00 1698.11,1667.60 1721.71,1648.60 1745.32,1677.00 1768.93,1635.00 1792.53,1615.90 1816.14,1668.20 1839.74,1668.40 1863.35,1592.00 1886.95,1583.30 1910.56,1659.80 1934.16,1656.20 1957.77,1679.00" fill="none" stroke="#008000" stroke-width="10" stroke-linejoin="round" stroke-linecap="square"/>
<polyline points="1249.61,1520.00 1273.21,1560.30 1296.82,1662.60 1320.42,1619.70 1344.03,1602.60 1367.63,1663.80 1391.24,1673.40 1414.84,1684.70 1438.45,1615.90 1462.05,1578.70 1485.66,1653.10 1509.27,1540.30 1532.87,1587.90 1556.48,1531.70 1580.08,1610.10 1603.69,1678.00 1627.29,1595.90 1650.90,1595.70 1674.50,1644.60 1698.11,1665.70 1721.71,1683.00 1745.32,1686.80 1768.93,1683.00 1792.53,1632.20 1816.14,1648.30 1839.74,1650.20 1863.35,1633.00 1886.95,1614.00 1910.56,1668.20 1934.16,1568.00 1957.77,1583.10" fill="none" stroke="#ff0000" stroke-width="10" stroke-linejoin="round" stroke-linecap="square"/>
</g>
<line x1="1201.00" y1="1719.80" x2="1226.00" y2="1719.80" stroke="#000" stroke-width="5.8"/>
<line x1="1201.00" y1="1616.80" x2="1226.00" y2="1616.80" stroke="#000" stroke-width="5.8"/>
<line x1="1201.00" y1="1513.80" x2="1226.00" y2="1513.80" stroke="#000" stroke-width="5.8"/>
<line x1="1201.00" y1="1410.80" x2="1226.00" y2="1410.80" stroke="#000" stroke-width="5.8"/>
<line x1="1201.00" y1="1307.80" x2="1226.00" y2="1307.80" stroke="#000" stroke-width="5.8"/>
<rect x="1226.00" y="1307.80" width="755.37" height="412.00" fill="none" stroke="#000" stroke-width="5.8"/>
</g>
<clipPath id="c22"><rect x="2131.25" y="1307.80" width="755.37" height="412.00"/></clipPath>
<g>
<text x="2154.85" y="1389.10" font-size="50.0">AVG :</text>
<text x="2296.57" y="1389.10" font-size="50.0" fill="#0000ff">0.07ns</text>
<text x="2485.57" y="1389.10" font-size="50.0" fill="#008000">0.13ns</text>
<text x="2673.57" y="1389.10" font-size="50.0" fill="#ff0000">0.13ns</text>
<g clip-path="url(#c22)">
<polyline points="2154.86,1676.30 2178.46,1681.80 2202.07,1673.40 2225.67,1666.90 2249.28,1683.00 2272.88,1692.60 2296.49,1696.20 2320.09,1676.30 2343.70,1684.90 2367.30,1691.40 2390.91,1675.50 2414.52,1685.70 2438.12,1675.30 2461.73,1673.40 2485.33,1663.00 2508.94,1684.50 2532.54,1681.00 2556.15,1656.30 2579.75,1678.00 2603.36,1671.50 2626.96,1671.50 2650.57,1695.20 2674.18,1603.60 2697.78,1634.90 2721.39,1669.20 2744.99,1661.70 2768.60,1656.00 2792.20,1629.30 2815.81,1679.70 2839.41,1633.00 2863.02,1569.70" fill="none" stroke="#0000ff" stroke-width="10" stroke-linejoin="round" stroke-linecap="square"/>
<polyline points="2154.86,1635.00 2178.46,1662.60 2202.07,1641.00 2225.67,1663.80 2249.28,1658.00 2272.88,1500.00 2296.49,1668.40 2320.09,1669.50 2343.70,1678.00 2367.30,1629.30 2390.91,1620.80 2414.52,1678.00 2438.12,1644.60 2461.73,1610.30 2485.33,1619.70 2508.94,1673.00 2532.54,1619.70 2556.15,1654.00 2579.75,1621.60 2603.36,1648.50 2626.96,1648.50 2650.57,1587.30 2674.18,1588.10 2697.78,1601.30 2721.39,1594.60 2744.99,1596.60 2768.60,1548.80 2792.20,1666.30 2815.81,1568.00 2839.41,1587.00 2863.02,1633.90" fill="none" stroke="#008000" stroke-width="10" stroke-linejoin="round" stroke-linecap="square"/>
<polyline points="2154.86,1546.80 2178.46,1579.40 2202.07,1677.00 2225.67,1663.80 2249.28,1603.60 2272.88,1668.40 2296.49,1653.40 2320.09,1673.70 2343.70,1619.90 2367.30,1627.40 2390.91,1655.90 2414.52,1603.60 2438.12,1619.50 2461.73,1595.90 2485.33,1638.90 2508.94,1645.60 2532.54,1611.30 2556.15,1645.40 2579.75,1603.60 2603.36,1656.10 2626.96,1658.00 2650.57,1679.00 2674.18,1581.50 2697.78,1629.10 2721.39,1625.30 2744.99,1633.00 2768.60,1623.60 2792.20,1664.40 2815.81,1652.10 2839.41,1563.20 2863.02,1617.60" fill="none" stroke="#ff0000" stroke-width="10" stroke-linejoin="round" stroke-linecap="square"/>
</g>
<line x1="2106.25" y1="1719.80" x2="2131.25" y2="1719.80" stroke="#000" stroke-width="5.8"/>
<line x1="2106.25" y1="1616.80" x2="2131.25" y2="1616.80" stroke="#000" stroke-width="5.8"/>
<line x1="2106.25" y1="1513.80" x2="2131.25" y2="1513.80" stroke="#000" stroke-width="5.8"/>
<line x1="2106.25" y1="1410.80" x2="2131.25" y2="1410.80" stroke="#000" stroke-width="5.8"/>
<line x1="2106.25" y1="1307.80" x2="2131.25" y2="1307.80" stroke="#000" stroke-width="5.8"/>
<rect x="2131.25" y="1307.80" width="755.37" height="412.00" fill="none" stroke="#000" stroke-width="5.8"/>
</g>
<text transform="translate(121.62,708.86) rotate(-90)" font-size="71.1">G-E ISB/ns</text>
<text transform="translate(142.62,1228.85) rotate(-90)" font-size="71.1">G-C2 ISB/ns</text>
<text transform="translate(142.62,1723.65) rotate(-90)" font-size="71.1">G-C3 ISB/ns</text>
<text transform="translate(335.84,1776.00) rotate(-90)" font-size="41.8" text-anchor="end" class="xt">109</text>
<text transform="translate(383.05,1776.00) rotate(-90)" font-size="41.8" text-anchor="end" class="xt">111</text>
<text transform="translate(430.26,1776.00) rotate(-90)" font-size="41.8" text-anchor="end" class="xt">113</text>
<text transform="translate(477.47,1776.00) rotate(-90)" font-size="41.8" text-anchor="end" class="xt">115</text>
<text transform="translate(524.68,1776.00) rotate(-90)" font-size="41.8" text-anchor="end" class="xt">117</text>
<text transform="translate(571.89,1776.00) rotate(-90)" font-size="41.8" text-anchor="end" class="xt">119</text>
<text transform="translate(619.11,1776.00) rotate(-90)" font-size="41.8" text-anchor="end" class="xt">121</text>
<text transform="translate(666.32,1776.00) rotate(-90)" font-size="41.8" text-anchor="end" class="xt">123</text>
<text transform="translate(713.53,1776.00) rotate(-90)" font-size="41.8" text-anchor="end" class="xt">125</text>
<text transform="translate(760.74,1776.00) rotate(-90)" font-size="41.8" text-anchor="end" class="xt">127</text>
<text transform="translate(807.95,1776.00) rotate(-90)" font-size="41.8" text-anchor="end" class="xt">129</text>
<text transform="translate(855.16,1776.00) rotate(-90)" font-size="41.8" text-anchor="end" class="xt">131</text>
<text transform="translate(902.37,1776.00) rotate(-90)" font-size="41.8" text-anchor="end" class="xt">133</text>
<text transform="translate(949.58,1776.00) rotate(-90)" font-size="41.8" text-anchor="end" class="xt">135</text>
<text transform="translate(996.79,1776.00) rotate(-90)" font-size="41.8" text-anchor="end" class="xt">137</text>
<text transform="translate(1044.00,1776.00) rotate(-90)" font-size="41.8" text-anchor="end" class="xt">139</text>
<text transform="translate(1091.22,1776.00) rotate(-90)" font-size="41.8" text-anchor="end" class="xt">141</text>
<text transform="translate(1241.22,1776.00) rotate(-90)" font-size="41.8" text-anchor="end" class="xt">109</text>
<text transform="translate(1288.43,1776.00) rotate(-90)" font-size="41.8" text-anchor="end" class="xt">111</text>
<text transform="translate(1335.64,1776.00) rotate(-90)" font-size="41.8" text-anchor="end" class="xt">113</text>
<text transform="translate(1382.85,1776.00) rotate(-90)" font-size="41.8" text-anchor="end" class="xt">115</text>
<text transform="translate(1430.06,1776.00) rotate(-90)" font-size="41.8" text-anchor="end" class="xt">117</text>
<text transform="translate(1477.27,1776.00) rotate(-90)" font-size="41.8" text-anchor="end" class="xt">119</text>
<text transform="translate(1524.48,1776.00) rotate(-90)" font-size="41.8" text-anchor="end" class="xt">121</text>
<text transform="translate(1571.69,1776.00) rotate(-90)" font-size="41.8" text-anchor="end" class="xt">123</text>
<text transform="translate(1618.90,1776.00) rotate(-90)" font-size="41.8" text-anchor="end" class="xt">125</text>
<text transform="translate(1666.11,1776.00) rotate(-90)" font-size="41.8" text-anchor="end" class="xt">127</text>
<text transform="translate(1713.32,1776.00) rotate(-90)" font-size="41.8" text-anchor="end" class="xt">129</text>
<text transform="translate(1760.54,1776.00) rotate(-90)" font-size="41.8" text-anchor="end" class="xt">131</text>
<text transform="translate(1807.75,1776.00) rotate(-90)" font-size="41.8" text-anchor="end" class="xt">133</text>
<text transform="translate(1854.96,1776.00) rotate(-90)" font-size="41.8" text-anchor="end" class="xt">135</text>
<text transform="translate(1902.17,1776.00) rotate(-90)" font-size="41.8" text-anchor="end" class="xt">137</text>
<text transform="translate(1949.38,1776.00) rotate(-90)" font-size="41.8" text-anchor="end" class="xt">139</text>
<text transform="translate(1996.59,1776.00) rotate(-90)" font-size="41.8" text-anchor="end" class="xt">141</text>
<text transform="translate(2146.47,1776.00) rotate(-90)" font-size="41.8" text-anchor="end" class="xt">109</text>
<text transform="translate(2193.68,1776.00) rotate(-90)" font-size="41.8" text-anchor="end" class="xt">111</text>
<text transform="translate(2240.89,1776.00) rotate(-90)" font-size="41.8" text-anchor="end" class="xt">113</text>
<text transform="translate(2288.10,1776.00) rotate(-90)" font-size="41.8" text-anchor="end" class="xt">115</text>
<text transform="translate(2335.31,1776.00) rotate(-90)" font-size="41.8" text-anchor="end" class="xt">117</text>
<text transform="translate(2382.52,1776.00) rotate(-90)" font-size="41.8" text-anchor="end" class="xt">119</text>
<text transform="translate(2429.73,1776.00) rotate(-90)" font-size="41.8" text-anchor="end" class="xt">121</text>
<text transform="translate(2476.94,1776.00) rotate(-90)" font-size="41.8" text-anchor="end" class="xt">123</text>
<text transform="translate(2524.15,1776.00) rotate(-90)" font-size="41.8" text-anchor="end" class="xt">125</text>
<text transform="translate(2571.36,1776.00) rotate(-90)" font-size="41.8" text-anchor="end" class="xt">127</text>
<text transform="translate(2618.57,1776.00) rotate(-90)" font-size="41.8" text-anchor="end" class="xt">129</text>
<text transform="translate(2665.79,1776.00) rotate(-90)" font-size="41.8" text-anchor="end" class="xt">131</text>
<text transform="translate(2713.00,1776.00) rotate(-90)" font-size="41.8" text-anchor="end" class="xt">133</text>
<text transform="translate(2760.21,1776.00) rotate(-90)" font-size="41.8" text-anchor="end" class="xt">135</text>
<text transform="translate(2807.42,1776.00) rotate(-90)" font-size="41.8" text-anchor="end" class="xt">137</text>
<text transform="translate(2854.63,1776.00) rotate(-90)" font-size="41.8" text-anchor="end" class="xt">139</text>
<text transform="translate(2901.84,1776.00) rotate(-90)" font-size="41.8" text-anchor="end" class="xt">141</text>
<line x1="2898.25" y1="1630.4" x2="2927.25" y2="1630.4" stroke="#ff0000" stroke-width="10.5" stroke-linecap="square"/>
<text x="2934.85" y="1651.30" font-size="42.9" fill="#000" >GBM</text>
<line x1="2898.25" y1="1664.0" x2="2927.25" y2="1664.0" stroke="#008000" stroke-width="10.5" stroke-linecap="square"/>
<text x="2935.83" y="1685.40" font-size="42.9" fill="#000" >WUM</text>
<line x1="2898.25" y1="1698.1" x2="2927.25" y2="1698.1" stroke="#0000ff" stroke-width="10.5" stroke-linecap="square"/>
<text x="2934.85" y="1720.00" font-size="42.9" fill="#000" >COM</text>
</g>
<g font-size="86"><text class="cap" transform="translate(1168,2012.5) scale(0.93,1)" x="0">(</text><text class="cap" transform="translate(1196.5,2012.5) scale(0.93,1)" font-weight="bold">c</text><text class="cap" transform="translate(1232,2012.5) scale(0.93,1)">)</text></g>
</svg>
</body></html>
